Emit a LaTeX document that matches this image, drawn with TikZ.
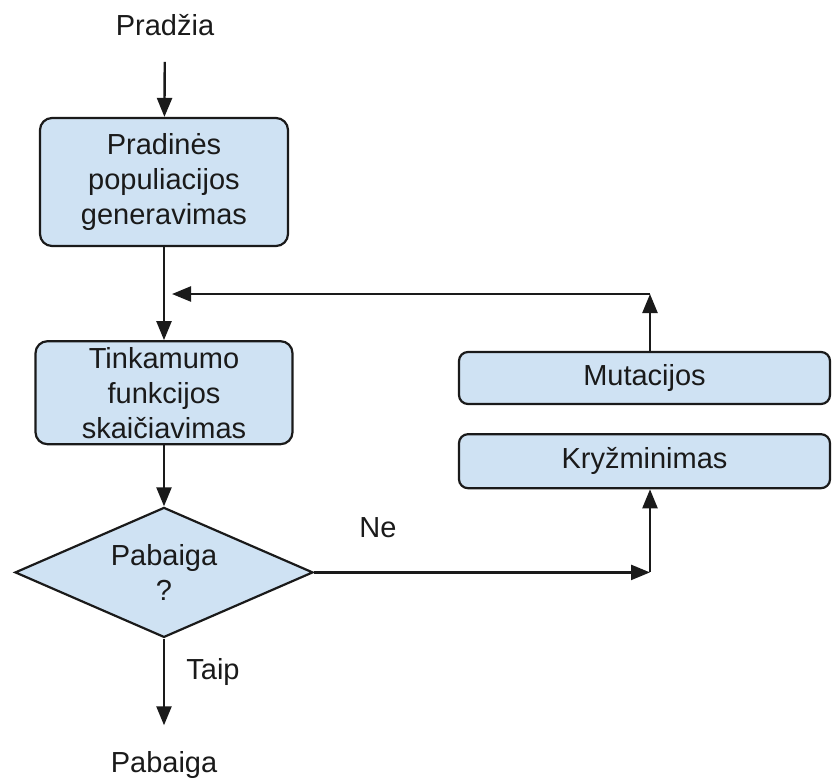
\documentclass[tikz,border=0pt]{standalone}
\usepackage{fontspec}
\setmainfont{Liberation Sans}
\usetikzlibrary{arrows.meta, positioning, shapes.geometric}
\definecolor{boxfill}{HTML}{CFE2F3}
\definecolor{ink}{HTML}{1A1A1A}
\newcommand{\bigtext}{\fontsize{29}{35}\selectfont}
\tikzset{
  box/.style={rectangle, rounded corners=12pt, draw=ink, line width=2.2pt,
              fill=boxfill, align=center, inner sep=2pt, text=ink, font=\bigtext},
  wide/.style={box, rounded corners=9pt, minimum width=371pt, minimum height=52pt},
  decision/.style={diamond, aspect=2.3, draw=ink, line width=2.2pt, fill=boxfill,
                   align=center, inner sep=0pt, minimum width=298pt,
                   minimum height=130pt, text=ink, font=\bigtext},
  lbl/.style={text=ink, font=\bigtext, inner sep=0pt},
  arrow/.style={-{Triangle[length=19pt, width=15pt]}, line width=2.4pt, draw=ink},
}

\begin{document}
\begin{tikzpicture}[x=1pt, y=-1pt]
  \useasboundingbox (0,0) rectangle (833,780);
  % ---- main column ----
  \node[lbl] (start) at (165,25) {Pradžia};
  \node[box, minimum width=248pt, minimum height=128pt] (init) at (164,182)
    {Pradinės\\populiacijos\\generavimas};
  \node[box, minimum width=257pt, minimum height=103pt, below=93pt of init] (fit)
    {Tinkamumo\\funkcijos\\skaičiavimas};
  \node[decision, below=61pt of fit] (test) {Pabaiga\\?};
  \node[lbl] (stop) at (164,765) {Pabaiga};

  % ---- right column ----
  \node[wide] (mut) at (644.5,378) {Mutacijos};
  \node[wide, minimum height=54pt, below=28pt of mut] (cross) {Kryžminimas};

  \node[lbl] (no) at (378,528) {Ne};
  \node[lbl] (yes) at (213,672) {Taip};

  \coordinate (turn) at (650,294);
  \coordinate (merge) at (172,294);

  \draw[arrow, shorten <=26pt] (start) -- (init);
  \draw[arrow] (init) -- (fit);
  \draw[arrow] (fit) -- (test);
  \draw[arrow, shorten >=26pt] (test) -- (stop);
  \draw[arrow] (test) -- (test -| turn);
  \draw[arrow] (test -| turn) -- (cross.south -| turn);
  \draw[arrow] (mut.north -| turn) -- (turn);
  \draw[arrow] (turn) -- (merge);
\end{tikzpicture}
\end{document}
